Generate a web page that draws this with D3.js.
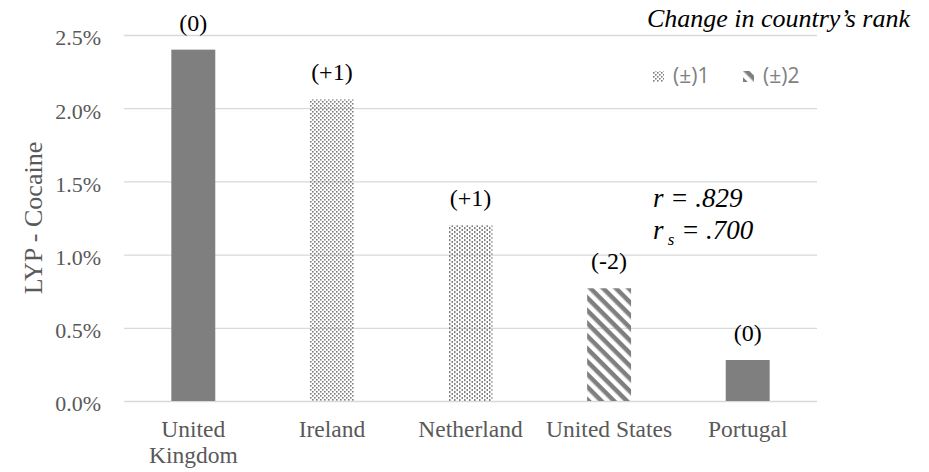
<!DOCTYPE html>
<html>
<head>
<meta charset="utf-8">
<script src="https://cdn.jsdelivr.net/npm/d3@7"></script>
<style>
  body { margin: 0; background: #fff; }
  svg text { font-family: 'Liberation Serif', 'Tinos', 'Times New Roman', 'DejaVu Serif', serif; }
  svg text.sans { font-family: 'Open Sans', 'Liberation Sans', sans-serif; }
</style>
</head>
<body>
<div id="chart"></div>
<script>
// data
const countries = ['United Kingdom', 'Ireland', 'Netherland', 'United States', 'Portugal'];
const tickLabels = ['United\nKingdom', 'Ireland', 'Netherland', 'United States', 'Portugal'];
const lypValues = [0.0240, 0.0206, 0.0120, 0.0077, 0.0028];
const rankChange = ['(0)', '(+1)', '(+1)', '(-2)', '(0)'];
const barFills = ['solid', 'dots', 'dashes', 'stripes', 'solid'];
const yTicks = [0, 0.005, 0.010, 0.015, 0.020, 0.025];
const legendLabels = ['(±)1', '(±)2'];
const legendFills = ['dots', 'stripes'];
const corrR = '.829';
const corrRs = '.700';

const margin = {top: 35, right: 112, bottom: 71, left: 124};
const W = 929, H = 472;
const width = W - margin.left - margin.right;
const height = H - margin.top - margin.bottom;

const grey = '#7f7f7f';

const svg = d3.select('#chart')
    .append('svg')
        .attr('width', W)
        .attr('height', H);

// fill patterns
const defs = svg.append('defs');

let dots = defs.append('pattern')
    .attr('id', 'dots')
    .attr('patternUnits', 'userSpaceOnUse')
    .attr('width', 4).attr('height', 4);
dots.append('rect').attr('x', 0).attr('y', 0).attr('width', 1.6).attr('height', 1.6).attr('fill', grey);
dots.append('rect').attr('x', 2).attr('y', 2).attr('width', 1.6).attr('height', 1.6).attr('fill', grey);

let dashes = defs.append('pattern')
    .attr('id', 'dashes')
    .attr('patternUnits', 'userSpaceOnUse')
    .attr('width', 5).attr('height', 4);
dashes.append('rect').attr('x', 0).attr('y', 0).attr('width', 1.5).attr('height', 2.2).attr('fill', grey);
dashes.append('rect').attr('x', 2.5).attr('y', 2).attr('width', 1.5).attr('height', 2.2).attr('fill', grey);

let stripes = defs.append('pattern')
    .attr('id', 'stripes')
    .attr('patternUnits', 'userSpaceOnUse')
    .attr('width', 9).attr('height', 9)
    .attr('patternTransform', 'rotate(45)');
stripes.append('rect').attr('x', 0).attr('y', 0).attr('width', 9).attr('height', 4.5).attr('fill', grey);

const fillOf = (key) => key == 'solid' ? grey : `url(#${key})`;

const g = svg.append('g')
    .attr('transform', `translate(${margin.left},${margin.top})`);

let xScale = d3.scaleBand()
    .domain(countries)
    .range([0, width])
    .paddingInner(0.683)
    .paddingOuter(0.3415);

let yScale = d3.scaleLinear()
    .domain([0, 0.025])
    .range([height, 0]);

// Eixo Y + grade
let yAxis = d3.axisLeft(yScale)
    .tickValues(yTicks)
    .tickFormat(d3.format('.1%'))
    .tickSize(-width)
    .tickPadding(23);

let yG = g.append('g').call(yAxis);
yG.attr('font-family', null);
yG.select('.domain').remove();
yG.selectAll('line').attr('stroke', '#d9d9d9').attr('stroke-width', 1.3);
yG.selectAll('text')
    .attr('dy', '0.45em')
    .attr('fill', '#595959')
    .style('font-size', '22px');

// Eixo X
let xAxis = d3.axisBottom(xScale).tickSize(0).tickFormat('');
let xG = g.append('g')
    .attr('transform', `translate(0,${height})`)
    .call(xAxis);
xG.attr('font-family', null);
xG.select('.domain').remove();
xG.selectAll('.tick text').remove();
xG.selectAll('.tick')
    .append('text')
        .attr('text-anchor', 'middle')
        .attr('fill', '#595959')
        .style('font-size', '23.5px')
        .each(function(d, i) {
            let lines = tickLabels[i].split('\n');
            d3.select(this).selectAll('tspan')
                .data(lines)
                .enter()
                .append('tspan')
                    .attr('x', 0)
                    .attr('y', (l, j) => 36 + j * 26)
                    .text(l => l);
        });

// barras
g.selectAll('rect.bar')
    .data(lypValues)
    .enter()
    .append('rect')
        .attr('class', 'bar')
        .attr('x', (d, i) => xScale(countries[i]))
        .attr('y', (d) => yScale(d))
        .attr('width', xScale.bandwidth())
        .attr('height', (d) => height - yScale(d))
        .attr('fill', (d, i) => fillOf(barFills[i]));

g.selectAll('text.lbl')
    .data(lypValues)
    .enter()
    .append('text')
        .attr('class', 'lbl')
        .attr('x', (d, i) => xScale(countries[i]) + xScale.bandwidth() / 2)
        .attr('y', (d) => yScale(d) - 19)
        .attr('text-anchor', 'middle')
        .style('font-size', '24px')
        .attr('fill', '#000')
        .text((d, i) => rankChange[i]);

// titulo do eixo Y
g.append('text')
    .attr('transform', 'rotate(-90)')
    .attr('x', -height / 2)
    .attr('y', -82)
    .attr('text-anchor', 'middle')
    .attr('fill', '#595959')
    .style('font-size', '26px')
    .text('LYP - Cocaine');

// legenda
svg.append('text')
    .attr('x', 910)
    .attr('y', 27)
    .attr('text-anchor', 'end')
    .style('font-style', 'italic')
    .style('font-size', '26px')
    .attr('fill', '#000')
    .text('Change in country\u2019s rank');

let legend = svg.append('g').attr('transform', 'translate(653,0)');
legendLabels.forEach((lab, i) => {
    let lx = i * 90;
    legend.append('rect')
        .attr('x', lx).attr('y', 71)
        .attr('width', 11).attr('height', 11)
        .attr('fill', fillOf(legendFills[i]));
    legend.append('text')
        .attr('class', 'sans')
        .attr('x', lx + 20)
        .attr('y', 83)
        .attr('fill', grey)
        .style('font-size', '21px')
        .text(lab);
});

// correlacoes
let corr = svg.append('g')
    .style('font-style', 'italic')
    .style('font-size', '27px')
    .attr('fill', '#000');

corr.append('text')
    .attr('x', 653).attr('y', 207)
    .text(`r = ${corrR}`);

let rs = corr.append('text')
    .attr('x', 653).attr('y', 239);
rs.append('tspan').text('r');
rs.append('tspan').attr('dy', 6).style('font-size', '17px').text(' s');
rs.append('tspan').attr('dy', -6).text(` = ${corrRs}`);
</script>
</body>
</html>
